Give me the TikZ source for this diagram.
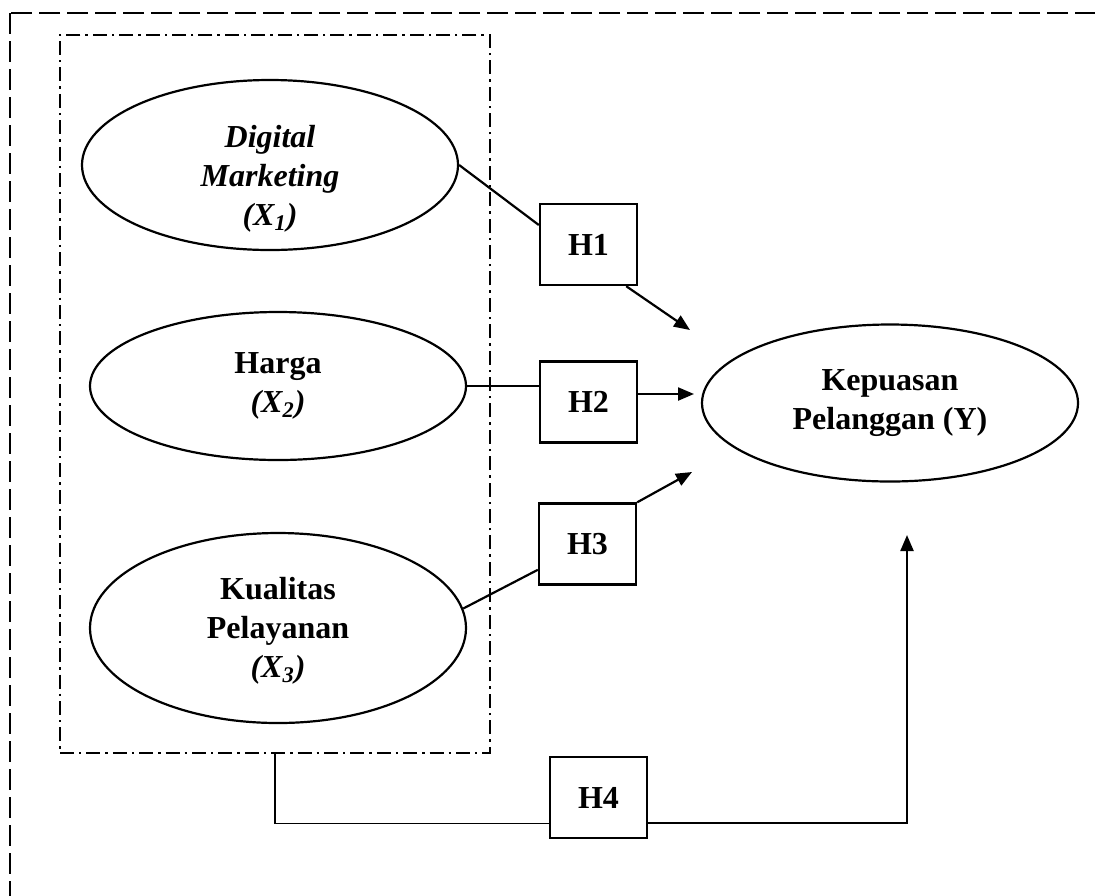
\documentclass[tikz,border=0pt]{standalone}
\usepackage{fontspec}
\setmainfont{Liberation Serif}
\usetikzlibrary{shapes.geometric,arrows.meta}
\tikzset{
  vtext/.style={align=center,font=\bfseries\fontsize{16}{19.5}\selectfont},
  var/.style={draw,ellipse,line width=1.1pt,inner sep=0pt,vtext,minimum width=188pt},
  hyp/.style={draw,rectangle,line width=1.2pt,minimum width=48.5pt,
    minimum height=40.5pt,inner sep=0pt,font=\bfseries\fontsize{16}{18}\selectfont},
  arr/.style={line width=1.1pt,-{Triangle[length=8pt,width=6.5pt]}}
}
\begin{document}
\begin{tikzpicture}[x=0.5pt,y=-0.5pt]
\useasboundingbox (0,0) rectangle (1095,895);
\clip (0,0) rectangle (1095,895);
% frames
\draw[line width=1.2pt,dash pattern=on 10.5pt off 3.5pt] (10,13) rectangle (1120,930);
\node[draw,line width=1.1pt,dash pattern=on 7pt off 2.5pt on 1.2pt off 2.5pt,
  minimum width=215pt,minimum height=359pt,inner sep=0pt] (grp) at (275,394) {};
% variables
\node[var,minimum height=85pt,label={[vtext,yshift=-7pt]center:\textit{Digital}\\\textit{Marketing}\\\textit{(X\textsubscript{1})}}] (dm) at (270,165) {};
\node[var,minimum height=74pt] (hg) at (278,386) {Harga\\\textit{(X\textsubscript{2})}};
\node[var,minimum height=95pt] (kp) at (278,628) {\rule{0pt}{14pt}Kualitas\\Pelayanan\\\textit{(X\textsubscript{3})}};
\node[var,minimum height=78.5pt] (kep) at (890,403) {Kepuasan\\Pelanggan (Y)};
% hypotheses
\node[hyp] (h1) at (588.5,244.5) {H1};
\node[hyp] (h2) at (588.5,402) {H2};
\node[hyp] (h3) at (587.5,544) {H3};
\node[hyp] (h4) at (598.5,797.5) {H4};
\coordinate (t1) at (690,330);
\coordinate (t2) at (694,394);
\coordinate (t3) at (692,472);
\coordinate (t4) at (907,535);
% connectors
\draw[line width=1.1pt] (dm.east) -- (h1.west |- 0,225);
\draw[arr] ([xshift=-6pt]h1.south east) -- (t1);
\draw[line width=1.1pt] (hg.east) -- (hg.east -| h2.west);
\draw[arr] (h2.east |- t2) -- (t2);
\draw[line width=1.1pt] (kp.6) -- (h3);
\draw[arr] (h3.north east) -- (t3);
\draw[line width=0.6pt] (grp.south) |- ([yshift=8pt]h4.south west);
\draw[arr] ([yshift=8pt]h4.south east) -| (t4);
\end{tikzpicture}
\end{document}
